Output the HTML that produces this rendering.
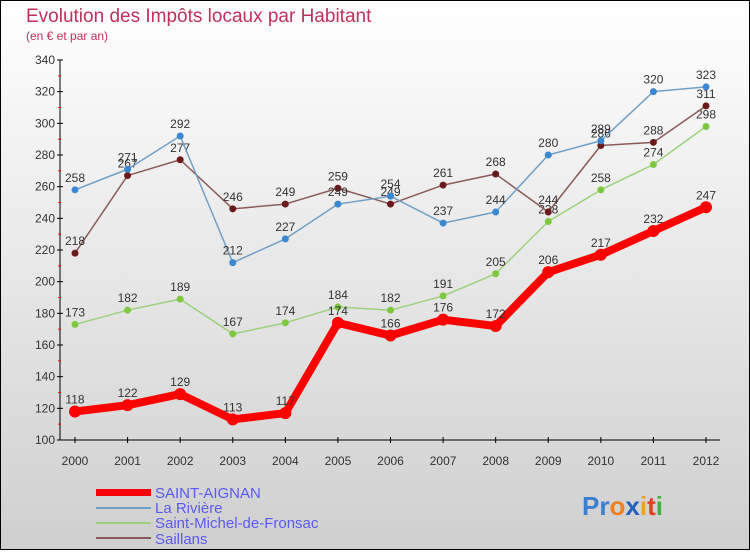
<!DOCTYPE html>
<html><head><meta charset="utf-8"><style>
html,body{margin:0;padding:0}
body{width:750px;height:550px;overflow:hidden;font-family:"Liberation Sans",sans-serif}
</style></head><body>
<svg id="chart" width="750" height="550" xmlns="http://www.w3.org/2000/svg">
<defs><linearGradient id="bg" x1="0" y1="0" x2="0" y2="1"><stop offset="0" stop-color="#ffffff"/><stop offset="1" stop-color="#cfcfcf"/></linearGradient></defs>
<rect x="0.5" y="0.5" width="749" height="549" fill="url(#bg)" stroke="#000"/>
<text x="26" y="22" font-size="19" fill="#c0305a">Evolution des Impôts locaux par Habitant</text>
<text x="26" y="40" font-size="12" fill="#c0305a">(en € et par an)</text>
<g id="axes"></g><g id="series"></g>
<g>
<rect x="96" y="489" width="55" height="7" fill="#f00"/><text x="155" y="498" font-size="15" fill="#5a5af0">SAINT-AIGNAN</text>
<line x1="96" y1="508" x2="151" y2="508" stroke="#6fa0c8" stroke-width="2"/><text x="155" y="513" font-size="15" fill="#5a5af0">La Rivière</text>
<line x1="96" y1="523" x2="151" y2="523" stroke="#9cd27a" stroke-width="2"/><text x="155" y="528" font-size="15" fill="#5a5af0">Saint-Michel-de-Fronsac</text>
<line x1="96" y1="538" x2="151" y2="538" stroke="#8b5a5a" stroke-width="2"/><text x="155" y="544" font-size="15" fill="#5a5af0">Saillans</text>
</g>
<text x="582" y="515" font-size="26" font-weight="bold"><tspan fill="#3a7fd0">Pr</tspan><tspan fill="#f08020">o</tspan><tspan fill="#2060c0">x</tspan><tspan fill="#f0a020">i</tspan><tspan fill="#e04020">t</tspan><tspan fill="#40b040">i</tspan></text>
</svg>
<script>
const years=[2000,2001,2002,2003,2004,2005,2006,2007,2008,2009,2010,2011,2012];
const saintAignan=[118,122,129,113,117,174,166,176,172,206,217,232,247];
const laRiviere=[258,271,292,212,227,249,254,237,244,280,289,320,323];
const saintMichel=[173,182,189,167,174,184,182,191,205,238,258,274,298];
const saillans=[218,267,277,246,249,259,249,261,268,244,286,288,311];
const yTicks=[100,120,140,160,180,200,220,240,260,280,300,320,340];
const NS="http://www.w3.org/2000/svg";
const x=i=>75+i*(706-75)/(years.length-1);
const y=v=>440-(v-100)*380/240;
function mk(t,a,p){const e=document.createElementNS(NS,t);for(const k in a)e.setAttribute(k,a[k]);p.appendChild(e);return e;}
const ax=document.getElementById('axes');
const yl=mk('line',{x1:60,y1:60,x2:60,y2:440,stroke:'#000'},ax);


const xl=mk('line',{x1:60,y1:440,x2:720,y2:440,stroke:'#000'},ax);


yTicks.forEach((v,k)=>{
  mk('line',{x1:57,y1:y(v),x2:63,y2:y(v),stroke:'#000'},ax);
  if(k<yTicks.length-1) mk('line',{x1:58,y1:y(v+10),x2:61,y2:y(v+10),stroke:'#f00'},ax);
  const t=mk('text',{x:55,y:y(v)+4,'font-size':12,fill:'#333','text-anchor':'end'},ax);
  
  
  t.textContent=v;
});
years.forEach((yr,i)=>{
  mk('line',{x1:x(i),y1:437,x2:x(i),y2:443,stroke:'#000'},ax);
  const t=mk('text',{x:x(i),y:465,'font-size':12,fill:'#333','text-anchor':'middle'},ax);
  
  
  t.textContent=yr;
});
const sg=document.getElementById('series');
function draw(data,color,w,r,dot,name){
  const g=mk('g',{},sg);
  
  
  mk('polyline',{points:data.map((v,i)=>x(i)+','+y(v)).join(' '),fill:'none',stroke:color,'stroke-width':w,'stroke-linejoin':'round'},g);
  data.forEach((v,i)=>{
    const c=mk('circle',{cx:x(i),cy:y(v),r:r,fill:dot},g);
    
    
    const t=mk('text',{x:x(i),y:y(v)-8,'font-size':12,fill:'#333','text-anchor':'middle'},g);
    
    
    t.textContent=v;
  });
}
draw(saintMichel,'#9cd27a',1.5,3.5,'#7cc840','saint-michel-series');
draw(saillans,'#8b5a5a',1.5,3.5,'#6a1a1a','saillans-series');
draw(laRiviere,'#6fa0c8',1.5,3.5,'#3a88d0','la-riviere-series');
draw(saintAignan,'#f00',8,6,'#f00','saint-aignan-series');
</script>
</body></html>
